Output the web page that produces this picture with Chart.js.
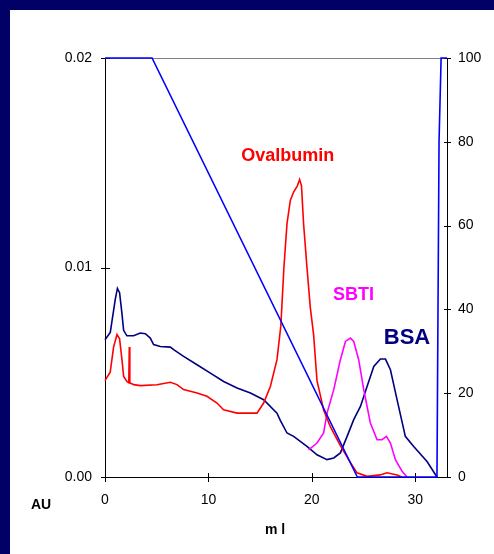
<!DOCTYPE html>
<html>
<head>
<meta charset="utf-8">
<script src="https://cdn.jsdelivr.net/npm/chart.js@4"></script>
<style>
  html, body { margin: 0; padding: 0; background: #000066; }
  #panel { position: absolute; left: 10px; top: 10px; width: 484px; height: 544px; background: #fff; }
</style>
</head>
<body>
<div id="panel"><canvas id="chart" width="484" height="544"></canvas></div>
<script>
// elution profiles, x = ml, y = AU
const ovalbumin = [
  [0, 0.0046], [0.5, 0.0050], [0.83, 0.0062], [1.16, 0.0068], [1.41, 0.0066], [1.64, 0.0056],
  [1.8, 0.0048], [2.12, 0.00456], [2.3, 0.0045], [2.35, 0.0062], [2.4, 0.0045], [2.77, 0.00441],
  [3.41, 0.00436], [5.03, 0.0044], [6.32, 0.00452], [6.96, 0.00441], [7.6, 0.00417], [8.9, 0.00401],
  [9.86, 0.00385], [10.83, 0.00353], [11.47, 0.00321], [12.77, 0.00305], [14.7, 0.00305],
  [15.34, 0.00353], [15.99, 0.00432], [16.63, 0.0056], [17.0, 0.0072], [17.3, 0.0100],
  [17.6, 0.0121], [17.92, 0.0132], [18.24, 0.0136], [18.6, 0.0139], [18.82, 0.0142], [19.0, 0.0139],
  [19.2, 0.0121], [19.53, 0.0100], [19.85, 0.0081], [20.17, 0.0068], [20.5, 0.0046], [21.14, 0.0032],
  [21.79, 0.0024], [22.76, 0.0015], [23.72, 0.0007], [24.37, 0.0002], [25.34, 0.00003],
  [26.6, 0.0001], [27.27, 0.0002], [28.24, 0.0001], [28.7, 0]
];
const bsa = [
  [0, 0.00655], [0.51, 0.0069], [1.0, 0.0085], [1.2, 0.0090], [1.41, 0.0088], [1.64, 0.0078],
  [1.8, 0.0070], [2.12, 0.00674], [2.77, 0.00674], [3.41, 0.00687], [3.9, 0.00684], [4.38, 0.00663],
  [4.7, 0.00632], [5.35, 0.00623], [6.32, 0.0062], [6.64, 0.00608], [7.6, 0.00576], [8.9, 0.00536],
  [10.19, 0.00496], [11.47, 0.00456], [12.77, 0.00425], [14.06, 0.00401], [15.34, 0.00369],
  [16.63, 0.00305], [16.95, 0.0027], [17.6, 0.0021], [18.24, 0.00194], [19.53, 0.00146],
  [20.5, 0.00106], [21.47, 0.00083], [22.12, 0.00091], [22.76, 0.00115], [23.41, 0.00194],
  [24.05, 0.00274], [24.7, 0.00337], [25.34, 0.00432], [25.99, 0.00528], [26.63, 0.00563],
  [27.12, 0.00563], [27.6, 0.00512], [28.24, 0.00369], [29.04, 0.00194], [29.85, 0.00146],
  [31.14, 0.00074], [32.1, 0]
];
const sbti = [
  [19.69, 0.0013], [20.5, 0.00162], [21.14, 0.0021], [21.47, 0.00305], [22.12, 0.00417],
  [22.76, 0.0056], [23.25, 0.00647], [23.73, 0.00663], [24.05, 0.00647], [24.53, 0.0056],
  [25.02, 0.00417], [25.66, 0.00258], [26.31, 0.00178], [26.79, 0.00178], [27.21, 0.00194],
  [27.6, 0.00162], [28.08, 0.00083], [28.73, 0.00027], [29.2, 0]
];
// gradient, right axis (%)
const gradient = [[0, 100], [4.55, 100], [24.4, 0], [32.1, 0], [32.3, 80], [32.5, 100], [33.07, 100]];

const xTicks = [0, 10, 20, 30];
const auTicks = [0, 0.01, 0.02];
const pctTicks = [0, 20, 40, 60, 80, 100];

const peakLabels = [
  { text: 'Ovalbumin', x: 17.68, y: 0.0153, color: '#ff0000', size: 18 },
  { text: 'SBTI', x: 24.04, y: 0.0087, color: '#ff00ff', size: 18 },
  { text: 'BSA', x: 29.2, y: 0.00663, color: '#000080', size: 22 }
];

const FONT = '"Liberation Sans", Arial, sans-serif';
const pts = arr => arr.map(p => ({ x: p[0], y: p[1] }));

function line(label, data, color, axis) {
  return {
    label: label, data: pts(data), yAxisID: axis,
    borderColor: color, borderWidth: 1.6, pointRadius: 0, tension: 0, fill: false, clip: 2
  };
}

const axesPlugin = {
  id: 'axes',
  beforeDatasetsDraw(chart) {
    const { ctx, chartArea: a, scales } = chart;
    ctx.save();
    ctx.lineWidth = 1;
    ctx.strokeStyle = '#808080';
    ctx.beginPath();
    ctx.moveTo(a.left - 4, a.top + 0.5); ctx.lineTo(a.right + 4, a.top + 0.5);
    ctx.stroke();
    ctx.strokeStyle = '#000';
    ctx.beginPath();
    ctx.moveTo(a.left + 0.5, a.top); ctx.lineTo(a.left + 0.5, a.bottom);
    ctx.moveTo(a.left, a.bottom + 0.5); ctx.lineTo(a.right, a.bottom + 0.5);
    ctx.moveTo(a.right + 0.5, a.top); ctx.lineTo(a.right + 0.5, a.bottom);
    auTicks.forEach(v => {
      const y = Math.round(scales.y.getPixelForValue(v)) + 0.5;
      ctx.moveTo(a.left - 4, y); ctx.lineTo(a.left + 5, y);
    });
    pctTicks.forEach(v => {
      const y = Math.round(scales.y2.getPixelForValue(v)) + 0.5;
      ctx.moveTo(a.right - 3, y); ctx.lineTo(a.right + 4, y);
    });
    xTicks.forEach(v => {
      const x = Math.round(scales.x.getPixelForValue(v)) + 0.5;
      ctx.moveTo(x, a.bottom - 4); ctx.lineTo(x, a.bottom + 5);
    });
    ctx.stroke();
    ctx.restore();
  },
  afterDatasetsDraw(chart) {
    const { ctx, scales } = chart;
    ctx.save();
    ctx.textAlign = 'center';
    ctx.textBaseline = 'middle';
    peakLabels.forEach(l => {
      ctx.fillStyle = l.color;
      ctx.font = 'bold ' + l.size + 'px ' + FONT;
      ctx.fillText(l.text, scales.x.getPixelForValue(l.x), scales.y.getPixelForValue(l.y));
    });
    ctx.fillStyle = '#000';
    ctx.font = 'bold 14px ' + FONT;
    ctx.fillText('AU', 31, 495);
    ctx.fillText('m l', 265, 520);
    ctx.restore();
  }
};

const tickFont = { family: FONT, size: 14 };

new Chart(document.getElementById('chart'), {
  type: 'line',
  data: {
    datasets: [
      line('Gradient', gradient, '#0000ff', 'y2'),
      line('Ovalbumin', ovalbumin, '#ff0000', 'y'),
      line('SBTI', sbti, '#ff00ff', 'y'),
      line('BSA', bsa, '#000080', 'y')
    ]
  },
  options: {
    responsive: false,
    animation: false,
    layout: { padding: { top: 48, left: 0, right: 0, bottom: 0 } },
    plugins: { legend: { display: false }, tooltip: { enabled: false } },
    scales: {
      x: {
        type: 'linear', min: 0, max: 33.07,
        afterBuildTicks: s => { s.ticks = xTicks.map(v => ({ value: v })); },
        afterFit: s => { s.height = 77; },
        grid: { display: false, drawTicks: false }, border: { display: false },
        ticks: { font: tickFont, color: '#000', padding: 15, maxRotation: 0 }
      },
      y: {
        position: 'left', min: 0, max: 0.02,
        afterBuildTicks: s => { s.ticks = auTicks.map(v => ({ value: v })); },
        afterFit: s => { s.width = 95; },
        grid: { display: false, drawTicks: false }, border: { display: false },
        ticks: { font: tickFont, color: '#000', padding: 13, callback: v => v.toFixed(2) }
      },
      y2: {
        position: 'right', min: 0, max: 100,
        afterBuildTicks: s => { s.ticks = pctTicks.map(v => ({ value: v })); },
        afterFit: s => { s.width = 47; },
        grid: { display: false, drawTicks: false }, border: { display: false },
        ticks: { font: tickFont, color: '#000', padding: 11 }
      }
    }
  },
  plugins: [axesPlugin]
});
</script>
</body>
</html>
